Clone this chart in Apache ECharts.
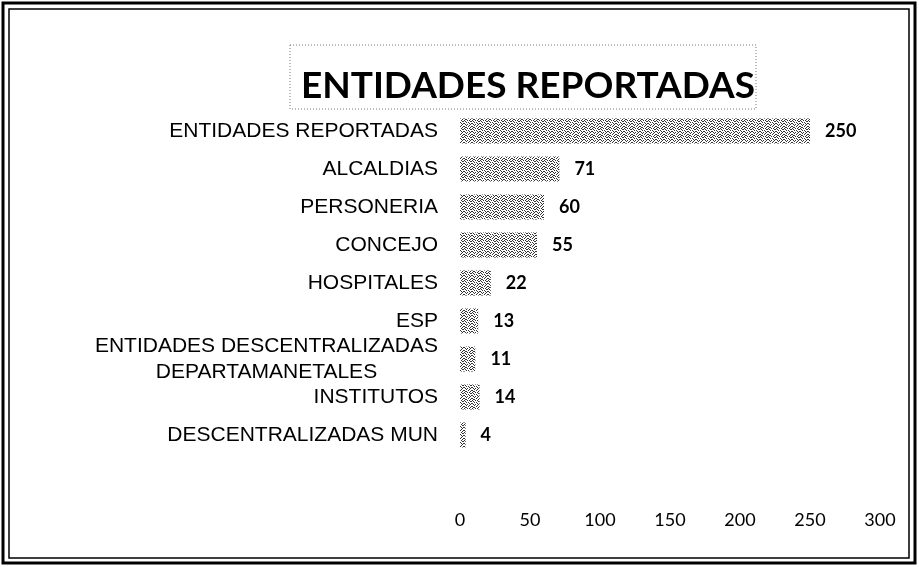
<!DOCTYPE html>
<html>
<head>
<meta charset="utf-8">
<script src="https://cdn.jsdelivr.net/npm/echarts@6/dist/echarts.min.js"></script>
<style>html,body{margin:0;padding:0;background:#fff}#c{width:919px;height:567px}</style>
</head>
<body>
<div id="c"></div>
<script>
const titleText = 'ENTIDADES REPORTADAS';
const categories = [
  'ENTIDADES REPORTADAS',
  'ALCALDIAS',
  'PERSONERIA',
  'CONCEJO',
  'HOSPITALES',
  'ESP',
  'ENTIDADES DESCENTRALIZADAS\nDEPARTAMANETALES',
  'INSTITUTOS',
  'DESCENTRALIZADAS MUN'
];
const values = [250, 71, 60, 55, 22, 13, 11, 14, 4];
const xTicks = [0, 50, 100, 150, 200, 250, 300];

// fixed dither tile imitating the scanned dotted fill
const tileRows = [
  '10010100',
  '01000011',
  '00101000',
  '10000101',
  '01010010',
  '00100100',
  '10001001',
  '01100010'
];
const tile = document.createElement('canvas');
tile.width = 8; tile.height = 8;
const tctx = tile.getContext('2d');
tctx.fillStyle = '#fff'; tctx.fillRect(0, 0, 8, 8);
tctx.fillStyle = '#333';
tileRows.forEach(function (row, y) {
  for (let x = 0; x < row.length; x++) if (row[x] === '1') tctx.fillRect(x, y, 1, 1);
});

const chart = echarts.init(document.getElementById('c'));
chart.setOption({
  backgroundColor: '#fff',
  animation: false,
  title: {
    text: titleText,
    left: 523, top: 63, textAlign: 'center',
    textStyle: { fontFamily: 'Lato', fontWeight: 'bold', fontSize: 37, color: '#000' }
  },
  graphic: [
    { type: 'rect', shape: { x: 3, y: 3, width: 912, height: 560 }, style: { fill: 'none', stroke: '#000', lineWidth: 3 } },
    { type: 'rect', shape: { x: 9, y: 9, width: 900, height: 549 }, style: { fill: 'none', stroke: '#000', lineWidth: 1.5 } },
    { type: 'rect', shape: { x: 290, y: 45, width: 466, height: 64 }, style: { fill: 'none', stroke: '#777', lineWidth: 1, lineDash: [1, 2] } }
  ],
  grid: { left: 460, right: 39, top: 112, height: 342 },
  xAxis: {
    type: 'value', min: xTicks[0], max: xTicks[xTicks.length - 1], interval: 50,
    axisLine: { show: false }, axisTick: { show: false }, splitLine: { show: false },
    axisLabel: { margin: 57, color: '#000', fontFamily: 'Lato', fontSize: 18 }
  },
  yAxis: {
    type: 'category', inverse: true, data: categories,
    axisLine: { show: false }, axisTick: { show: false },
    axisLabel: {
      margin: 22, color: '#000', fontFamily: 'Liberation Sans', fontSize: 21,
      formatter: function (v) {
        return v.split('\n').map(function (s) { return '{a|' + s + '}'; }).join('\n');
      },
      rich: { a: { fontFamily: 'Liberation Sans', fontSize: 21, color: '#000', align: 'center', lineHeight: 26 } }
    }
  },
  series: [{
    type: 'bar', data: values, barWidth: 25,
    itemStyle: { color: { image: tile, repeat: 'repeat' } },
    label: { show: true, position: 'right', distance: 15, color: '#000', fontFamily: 'Lato', fontWeight: 'bold', fontSize: 18 }
  }]
});
</script>
</body>
</html>
